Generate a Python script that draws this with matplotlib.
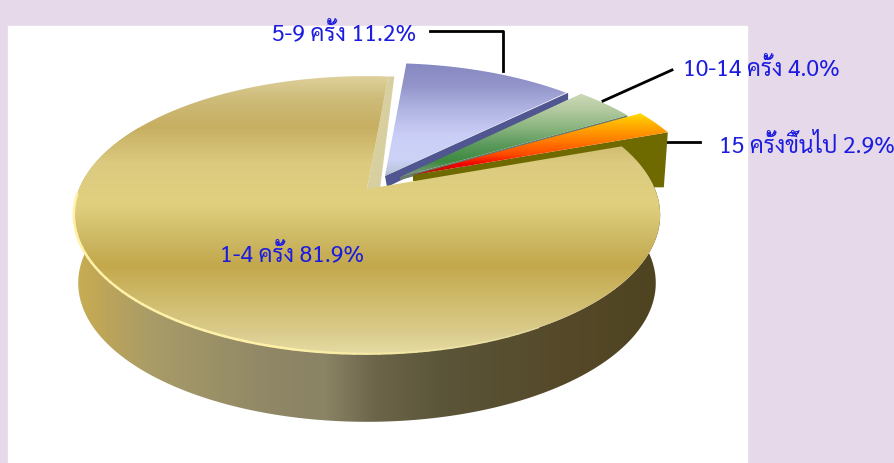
import numpy as np
import matplotlib
matplotlib.use('Agg')
import matplotlib.pyplot as plt
from matplotlib.patches import Polygon, Rectangle

# data, clockwise from the right hand end of the big slice
labels = ['1-4 ครั้ง', '5-9 ครั้ง', '10-14 ครั้ง', '15 ครั้งขึ้นไป']
values = [81.9, 11.2, 4.0, 2.9]

plt.rcParams['font.family'] = ['Sarabun', 'DejaVu Sans']

# pie geometry in picture pixels
A, B, K = 288.0, 134.0, 0.187
DEPTH = 68.0
START = 379.8

fig = plt.figure(figsize=(8.95, 4.64), dpi=100, facecolor='#e6d9e9')
ax = fig.add_axes([0, 0, 1, 1])
ax.set_axis_off()
ax.set_xlim(0, 895)
ax.set_ylim(464, 0)
ax.add_patch(Rectangle((8, 27), 739, 437, color='white', zorder=0))


def project(t, apex, depth=0.0):
    # circle seen in perspective, t in degrees
    t = np.radians(t)
    u, v = np.cos(t), np.sin(t)
    d = 1 + K * v
    s = 1 - 0.015 * depth / DEPTH
    return apex[0] + s * A * u / d, apex[1] + depth - B * v / d


def slice_points(t1, t2, apex):
    ts = np.linspace(t1, t2, 120)
    x, y = project(ts, apex)
    return np.column_stack([np.r_[apex[0], x], np.r_[apex[1], y]])


def gradient(points, stops, horizontal=False, zorder=2):
    pos = [s[0] for s in stops]
    rgb = np.array([matplotlib.colors.to_rgb(s[1]) for s in stops])
    grid = np.arange(0, 895 if horizontal else 464)
    img = np.column_stack([np.interp(grid, pos, rgb[:, i]) for i in range(3)])
    img = img[np.newaxis, :, :] if horizontal else img[:, np.newaxis, :]
    im = ax.imshow(img, extent=(0, 895, 464, 0), aspect='auto', zorder=zorder,
                   interpolation='bilinear')
    patch = Polygon(points, closed=True, transform=ax.transData, fc='none', ec='none')
    ax.add_patch(patch)
    im.set_clip_path(patch)


# slice angles come from the values
sweeps = np.array(values) / sum(values) * 360
ends = START - np.cumsum(sweeps)
starts = ends + sweeps
gold_t = (ends[0], starts[0])
blue_t = (ends[1], starts[1])
green_t = (ends[2], starts[2])
orange_t = (ends[3], starts[3])

gold_apex = (367, 190)
blue_apex = (385, 177)
green_apex = (400, 178)
orange_apex = (413, 176)

# blue slice with dark cut face
bx, by = project(blue_t[0], blue_apex)
ax.add_patch(Polygon([blue_apex, (bx + 2, by), (bx + 2, by + 7), (blue_apex[0] + 2, blue_apex[1] + 11)],
                     fc='#50568f', ec='none', zorder=2))
gradient(slice_points(*blue_t, blue_apex),
         [(60, '#8486c0'), (85, '#9294c9'), (110, '#b0b4e2'), (135, '#c9cef6'),
          (160, '#ccd3f7'), (172, '#bcc6dc'), (180, '#a0a8b8')], zorder=3)

# green slice
gx, gy = project(green_t[0], green_apex)
ax.add_patch(Polygon([green_apex, (gx, gy), (gx, gy + 3), (green_apex[0], green_apex[1] + 3)],
                     fc='#68786c', ec='none', zorder=4))
gradient(slice_points(*green_t, green_apex),
         [(94, '#cdd9b8'), (110, '#b4caa0'), (128, '#8ab57f'), (145, '#5c9a5c'),
          (162, '#3d8a3f'), (172, '#6f9670'), (180, '#90a088')], zorder=5)

# orange slice and the olive face under it
ox, oy = project(orange_t[0], orange_apex)
ax.add_patch(Polygon([orange_apex, (ox, oy), (ox - 4, oy + 55), (ox - 20, oy + 55), (orange_apex[0], orange_apex[1] + 6)],
                     fc='#6e6a00', ec='none', zorder=6))
gradient(slice_points(*orange_t, orange_apex),
         [(115, '#ffd800'), (125, '#ffb000'), (140, '#ff8000'), (155, '#ff4a00'),
          (165, '#f20000'), (175, '#9a2000')], zorder=7)

# big gold slice: side wall, cut face, top
ts = np.linspace(150, gold_t[1], 200)
tx, ty = project(ts, gold_apex)
wx, wy = project(ts, gold_apex, DEPTH)
gradient(np.column_stack([np.r_[tx, wx[::-1]], np.r_[ty, wy[::-1]]]),
         [(78, '#c7ad52'), (100, '#bfa658'), (150, '#a99c68'), (270, '#8f8766'),
          (325, '#8a8364'), (375, '#6c654a'), (440, '#5b5539'), (560, '#55492a'), (655, '#4f4420')],
         horizontal=True, zorder=8)

ex, ey = project(gold_t[0], gold_apex)
ax.add_patch(Polygon([gold_apex, (ex, ey), (ex + 6, ey), (gold_apex[0] + 13, gold_apex[1])],
                     fc='#d8cfa0', ec='none', zorder=8))
gradient(slice_points(*gold_t, gold_apex),
         [(77, '#ddd09a'), (100, '#cdbb78'), (128, '#c7af62'), (165, '#dccb80'),
          (205, '#e0d07e'), (240, '#cdb864'), (266, '#c3a84c'), (300, '#cfbb6c'),
          (335, '#dbcd8e'), (355, '#e6dca4')], zorder=9)

# pale rim along the front edge, fading out to the right
rim_t = np.linspace(182, 300, 60)
rx, ry = project(rim_t, gold_apex)
rim_start = np.array(matplotlib.colors.to_rgb('#fff2a8'))
rim_end = np.array(matplotlib.colors.to_rgb('#e3d9a0'))
for i in range(len(rim_t) - 1):
    mix = min(1.0, max(0.0, (rim_t[i] - 255) / 45))
    ax.plot(rx[i:i + 2], ry[i:i + 2], color=rim_start * (1 - mix) + rim_end * mix,
            lw=1.8 - 0.8 * mix, zorder=10, solid_capstyle='round')

# leader lines
ax.plot([430, 503, 503], [32, 32, 72], color='black', lw=2, zorder=11)
ax.plot([672, 603], [71, 102], color='black', lw=2, zorder=11)
ax.plot([667, 700], [143, 143], color='black', lw=2, zorder=5)

# labels
blue_text = '#1c1ce0'
size = 16.5
ax.text(292, 254, f'{labels[0]} {values[0]}%', color=blue_text, fontsize=size, ha='center', va='center', zorder=12)
ax.text(416, 33, f'{labels[1]} {values[1]}%', color=blue_text, fontsize=size, ha='right', va='center', zorder=12)
ax.text(683, 69, f'{labels[2]} {values[2]}%', color=blue_text, fontsize=size, ha='left', va='center', zorder=12)
ax.text(719, 145, f'{labels[3]} {values[3]}%', color=blue_text, fontsize=size, ha='left', va='center', zorder=12)

ax.set_xlim(0, 895)
ax.set_ylim(464, 0)
fig.savefig('out.png', dpi=100, facecolor=fig.get_facecolor())
